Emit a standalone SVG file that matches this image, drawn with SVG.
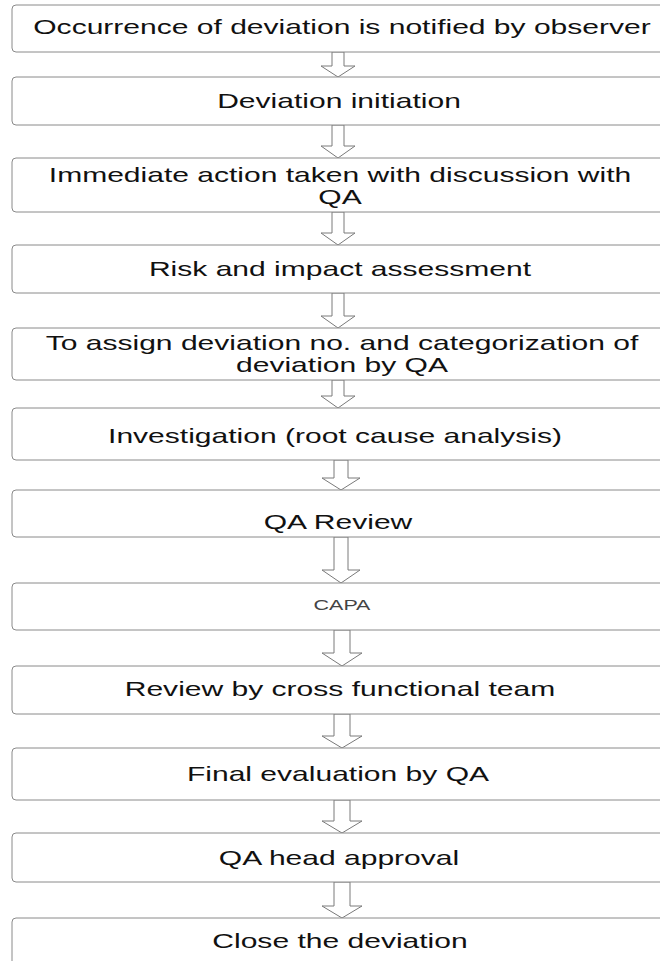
<svg xmlns="http://www.w3.org/2000/svg" width="660" height="961" viewBox="0 0 660 961">
<style>
.box{fill:#fff;stroke:#8a8a8a;stroke-width:1}
.t{font-family:"Liberation Sans",Arial,sans-serif;font-size:21px;fill:#111;text-anchor:middle}
.s{font-family:"Liberation Sans",Arial,sans-serif;font-size:15px;fill:#444;text-anchor:middle}
.arr{fill:#fff;stroke:#7a7a7a;stroke-width:1}
</style>
<rect width="660" height="961" fill="#fff"/>
<g id="connectors">
<path class="arr" d="M332,52 V66 H321 L338,77 L355,66 H344 V52 Z"/>
<path class="arr" d="M332,125 V146 H321 L338,158 L355,146 H344 V125 Z"/>
<path class="arr" d="M332,212 V233 H321 L338,245 L355,233 H344 V212 Z"/>
<path class="arr" d="M332,293 V316 H321 L338,328 L355,316 H344 V293 Z"/>
<path class="arr" d="M332,380 V396 H321 L338,408 L355,396 H344 V380 Z"/>
<path class="arr" d="M334,460 V478 H322 L341,490 L360,478 H348 V460 Z"/>
<path class="arr" d="M334,537 V570 H322 L341,583 L360,570 H348 V537 Z"/>
<path class="arr" d="M334,630 V653 H322 L342,666 L362,653 H350 V630 Z"/>
<path class="arr" d="M334,714 V736 H322 L342,748 L362,736 H350 V714 Z"/>
<path class="arr" d="M334,800 V821 H322 L342,833 L362,821 H350 V800 Z"/>
<path class="arr" d="M334,882 V906 H322 L342,918 L362,906 H350 V882 Z"/>
</g>
<g id="n1"><rect class="box" x="12" y="5" width="660" height="47" rx="4"/><text class="t" transform="translate(342,34) scale(1.43,1)">Occurrence of deviation is notified by observer</text></g>
<g id="n2"><rect class="box" x="12" y="77" width="660" height="48" rx="4"/><text class="t" transform="translate(339,108) scale(1.43,1)">Deviation initiation</text></g>
<g id="n3"><rect class="box" x="12" y="158" width="660" height="54" rx="4"/><text class="t" transform="translate(340,182) scale(1.43,1)">Immediate action taken with discussion with</text><text class="t" transform="translate(340,204) scale(1.43,1)">QA</text></g>
<g id="n4"><rect class="box" x="12" y="245" width="660" height="48" rx="4"/><text class="t" transform="translate(340,276) scale(1.43,1)">Risk and impact assessment</text></g>
<g id="n5"><rect class="box" x="12" y="328" width="660" height="52" rx="4"/><text class="t" transform="translate(342,350) scale(1.43,1)">To assign deviation no. and categorization of</text><text class="t" transform="translate(342,372) scale(1.43,1)">deviation by QA</text></g>
<g id="n6"><rect class="box" x="12" y="408" width="660" height="52" rx="4"/><text class="t" transform="translate(335,443) scale(1.43,1)">Investigation (root cause analysis)</text></g>
<g id="n7"><rect class="box" x="12" y="490" width="660" height="47" rx="4"/><text class="t" transform="translate(338,529) scale(1.43,1)">QA Review</text></g>
<g id="n8"><rect class="box" x="12" y="583" width="660" height="47" rx="4"/><text class="s" transform="translate(342,610) scale(1.43,1)">CAPA</text></g>
<g id="n9"><rect class="box" x="12" y="666" width="660" height="48" rx="4"/><text class="t" transform="translate(340,696) scale(1.43,1)">Review by cross functional team</text></g>
<g id="n10"><rect class="box" x="12" y="748" width="660" height="52" rx="4"/><text class="t" transform="translate(338,781) scale(1.43,1)">Final evaluation by QA</text></g>
<g id="n11"><rect class="box" x="12" y="833" width="660" height="49" rx="4"/><text class="t" transform="translate(339,865) scale(1.43,1)">QA head approval</text></g>
<g id="n12"><rect class="box" x="12" y="918" width="660" height="60" rx="4"/><text class="t" transform="translate(340,948) scale(1.43,1)">Close the deviation</text></g>
</svg>
